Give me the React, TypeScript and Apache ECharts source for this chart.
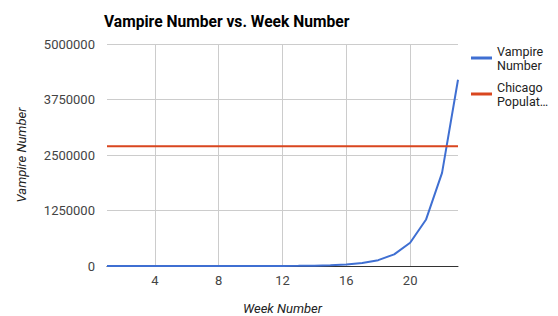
import React, { useEffect, useRef } from "react";
import * as echarts from "echarts";

const weeks = [1, 2, 3, 4, 5, 6, 7, 8, 9, 10, 11, 12, 13, 14, 15, 16, 17, 18, 19, 20, 21, 22, 23];
const vampireNumber = [
  1, 2, 4, 8, 16, 32, 64, 128, 256, 512, 1024, 2048, 4096, 8192, 16384, 32768, 65536,
  131072, 262144, 524288, 1048576, 2097152, 4194304,
];
const chicagoPopulation = [
  2695598, 2695598, 2695598, 2695598, 2695598, 2695598, 2695598, 2695598, 2695598, 2695598,
  2695598, 2695598, 2695598, 2695598, 2695598, 2695598, 2695598, 2695598, 2695598, 2695598,
  2695598, 2695598, 2695598,
];
const xTickValues = [4, 8, 12, 16, 20];
const yTickLabels = [0, 1250000, 2500000, 3750000, 5000000];

const legendLabels: Record<string, string> = {
  "Vampire Number": "Vampire\nNumber",
  "Chicago Population": "Chicago\nPopulat…",
};

const FONT = "Roboto, Arial, sans-serif";

export default function App() {
  const ref = useRef<HTMLDivElement>(null);
  useEffect(() => {
    if (!ref.current) return;
    const chart = echarts.init(ref.current, undefined, { renderer: "svg" });
    const legendBase = {
      orient: "vertical" as const,
      left: 471,
      padding: 0,
      itemWidth: 21,
      itemHeight: 3,
      icon: "rect",
      itemGap: 0,
      formatter: (n: string) => legendLabels[n] ?? n,
      textStyle: {
        fontFamily: FONT,
        fontSize: 12.5,
        color: "#222",
        lineHeight: 14,
        padding: [14, 0, 0, 0],
      },
    };
    chart.setOption({
      animation: false,
      title: {
        text: "Vampire Number vs. Week Number",
        left: 99,
        top: 9,
        textStyle: { fontFamily: FONT, fontSize: 15.6, fontWeight: "bold", color: "#000" },
      },
      legend: [
        { ...legendBase, top: 37, data: ["Vampire Number"] },
        { ...legendBase, top: 73, data: ["Chicago Population"] },
      ],
      grid: { left: 107, right: 100, top: 44, bottom: 50, outerBoundsMode: "none", containLabel: false },
      xAxis: {
        type: "value",
        min: weeks[0],
        max: weeks[weeks.length - 1],
        name: "Week Number",
        nameLocation: "middle",
        nameGap: 36,
        nameTextStyle: { fontFamily: FONT, fontSize: 13, fontStyle: "italic", color: "#222" },
        axisLine: { show: true, lineStyle: { color: "#333", width: 1 } },
        axisTick: { show: false, customValues: xTickValues },
        axisLabel: {
          customValues: xTickValues,
          fontFamily: FONT,
          fontSize: 13,
          color: "#444",
          margin: 8,
        },
        splitLine: { show: true, lineStyle: { color: "#cccccc", width: 1 } },
      },
      yAxis: {
        type: "value",
        min: yTickLabels[0],
        max: yTickLabels[yTickLabels.length - 1],
        interval: yTickLabels[1] - yTickLabels[0],
        name: "Vampire Number",
        nameLocation: "middle",
        nameGap: 79,
        nameTextStyle: { fontFamily: FONT, fontSize: 13, fontStyle: "italic", color: "#222" },
        axisLine: { show: false },
        axisTick: { show: false },
        axisLabel: {
          fontFamily: FONT,
          fontSize: 13,
          color: "#444",
          margin: 12,
          formatter: (v: number) => String(v),
        },
        splitLine: { show: true, lineStyle: { color: "#cccccc", width: 1 } },
      },
      series: [
        {
          name: "Vampire Number",
          type: "line",
          data: weeks.map((w, i) => [w, vampireNumber[i]]),
          showSymbol: false,
          symbol: "none",
          color: "#3f6fd2",
          lineStyle: { width: 2, color: "#3f6fd2" },
        },
        {
          name: "Chicago Population",
          type: "line",
          data: weeks.map((w, i) => [w, chicagoPopulation[i]]),
          showSymbol: false,
          symbol: "none",
          color: "#d9461f",
          lineStyle: { width: 2, color: "#d9461f" },
        },
      ],
    });
    return () => chart.dispose();
  }, []);
  return <div ref={ref} style={{ width: 558, height: 316, position: "absolute", left: 0, top: 0 }} />;
}
